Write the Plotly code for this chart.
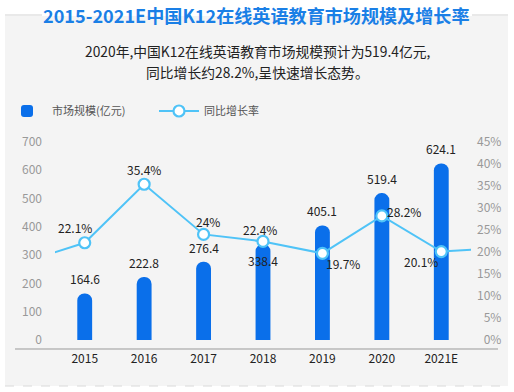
import plotly.graph_objects as go

# ---- data ----
years = ["2014", "2015", "2016", "2017", "2018", "2019", "2020", "2021E", "2022E"]
market_size = [None, 164.6, 222.8, 276.4, 338.4, 405.1, 519.4, 624.1, None]   # 亿元
growth_rate = [17.8, 22.1, 35.4, 24.0, 22.4, 19.7, 28.2, 20.1, 20.9]          # %
growth_text = ["", "22.1%", "35.4%", "24%", "22.4%", "19.7%", "28.2%", "20.1%", ""]
left_ticks = [0, 100, 200, 300, 400, 500, 600, 700]
right_ticks = [0, 5, 10, 15, 20, 25, 30, 35, 40, 45]
right_tick_text = ["\u20070%", "\u20075%", "10%", "15%", "20%", "25%", "30%", "35%", "40%", "45%"]

# label offsets (style)
bar_label_shift = {"2018": -16}
growth_label_shift = {
    "2015": (-10, 15), "2016": (0, 15), "2017": (4, 13), "2018": (-3, 12),
    "2019": (21, -10), "2020": (22, 4), "2021E": (-20, -10),
}

FONT = "Noto Sans CJK SC"
W, H = 514, 392
BAR_C = "#0A6FEA"
LINE_C = "#4FC3F7"

def px(x):
    return x / W

def py(y):
    return (H - y) / H

fig = go.Figure()
fig.add_trace(go.Bar(
    x=years, y=market_size, name="市场规模(亿元)",
    marker=dict(color=BAR_C, line=dict(width=0)), width=0.25,
    yaxis="y", hoverinfo="skip",
))
fig.add_trace(go.Scatter(
    x=years, y=growth_rate, name="同比增长率", mode="lines+markers",
    line=dict(color=LINE_C, width=2),
    marker=dict(size=11, color="white", line=dict(color=LINE_C, width=2.2)),
    yaxis="y2", hoverinfo="skip",
))

ann = []
for i, (yr, v) in enumerate(zip(years, market_size)):
    if v is None:
        continue
    if yr in bar_label_shift:
        ann.append(dict(x=i, y=v, xref="x", yref="y", text=f"{v}", showarrow=False,
                        yanchor="middle", yshift=bar_label_shift[yr],
                        font=dict(family=FONT, size=12, color="#222")))
    else:
        ann.append(dict(x=i, y=v, xref="x", yref="y", text=f"{v}", showarrow=False,
                        yanchor="bottom", yshift=4,
                        font=dict(family=FONT, size=12, color="#222")))
for i, (yr, g, t) in enumerate(zip(years, growth_rate, growth_text)):
    if not t:
        continue
    dx, dy = growth_label_shift[yr]
    ann.append(dict(x=i, y=g, xref="x", yref="y2", text=t, showarrow=False,
                    yanchor="middle", xshift=dx, yshift=dy,
                    font=dict(family=FONT, size=12, color="#222")))

# title & subtitle
ann.append(dict(x=px(256), y=py(15), xref="paper", yref="paper", showarrow=False,
                text="<b>2015-2021E中国K12在线英语教育市场规模及增长率</b>",
                font=dict(family=FONT, size=18.1, color="#1A7FE6"),
                xanchor="center", yanchor="middle"))
ann.append(dict(x=px(257), y=py(51), xref="paper", yref="paper", showarrow=False,
                text="2020年,中国K12在线英语教育市场规模预计为519.4亿元,",
                font=dict(family=FONT, size=13.8, color="#222"),
                xanchor="center", yanchor="middle"))
ann.append(dict(x=px(257), y=py(72), xref="paper", yref="paper", showarrow=False,
                text="同比增长约28.2%,呈快速增长态势。",
                font=dict(family=FONT, size=13.8, color="#222"),
                xanchor="center", yanchor="middle"))

shapes = [
    dict(type="rect", xref="paper", yref="paper", x0=px(5), x1=px(508), y0=py(386), y1=py(16),
         fillcolor="#F4F4F4", line=dict(width=0), layer="below"),
    dict(type="line", xref="paper", yref="paper", x0=px(5), x1=px(42), y0=py(15), y1=py(15),
         line=dict(color="#E2E2E2", width=1.5), layer="below"),
    dict(type="line", xref="paper", yref="paper", x0=px(472), x1=px(508), y0=py(15), y1=py(15),
         line=dict(color="#E2E2E2", width=1.5), layer="below"),
    dict(type="line", xref="paper", yref="paper", x0=px(5), x1=px(508), y0=py(386), y1=py(386),
         line=dict(color="#DADADA", width=1, dash="dash"), layer="below"),
    dict(type="line", xref="paper", yref="paper", x0=px(15), x1=px(498), y0=py(349), y1=py(349),
         line=dict(color="#999999", width=1), layer="above"),
]

fig.update_layout(
    width=W, height=H,
    margin=dict(l=0, r=0, t=0, b=0, pad=0, autoexpand=False),
    paper_bgcolor="white", plot_bgcolor="rgba(0,0,0,0)",
    font=dict(family=FONT),
    barcornerradius=8,
    showlegend=True,
    legend=dict(orientation="h", x=px(2), y=py(111), xanchor="left", yanchor="middle",
                font=dict(family=FONT, size=11, color="#555"), bgcolor="rgba(0,0,0,0)",
                entrywidth=97, entrywidthmode="pixels", itemwidth=40),
    xaxis=dict(type="category", domain=[px(55), px(471)], range=[0.5, 7.5],
               showgrid=False, showline=False, zeroline=False, ticks="",
               tickfont=dict(family=FONT, size=12, color="#222"), automargin=False,
               ticklabelstandoff=10, fixedrange=True),
    yaxis=dict(domain=[py(340), py(142)], range=[0, 700], tickvals=left_ticks,
               showgrid=False, showline=False, zeroline=False, ticks="", automargin=False,
               tickfont=dict(family=FONT, size=12, color="#999"),
               ticklabelstandoff=12, fixedrange=True),
    yaxis2=dict(overlaying="y", side="right", anchor="x", range=[0, 45],
                tickvals=right_ticks, ticktext=right_tick_text, automargin=False,
                showgrid=False, showline=False, zeroline=False, ticks="",
                tickfont=dict(family=FONT, size=12, color="#999"),
                ticklabelstandoff=5, fixedrange=True),
    annotations=ann, shapes=shapes,
)

fig.write_html("out.html", config={"displayModeBar": False},
               post_script="document.body.style.margin='0';")
